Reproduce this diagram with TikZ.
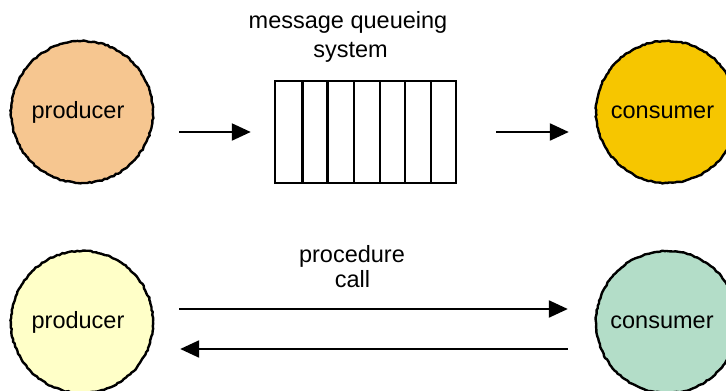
\documentclass[tikz,border=0pt]{standalone}
\usepackage{fontspec}
\setmainfont{Liberation Sans}
\usetikzlibrary{arrows.meta,decorations.pathmorphing}
\definecolor{prodA}{HTML}{F6C690}
\definecolor{consA}{HTML}{F6C600}
\definecolor{prodB}{HTML}{FFFFC8}
\definecolor{consB}{HTML}{B3DDC8}
\begin{document}
\pgfmathsetseed{7}
\begin{tikzpicture}[x=1pt,y=-1pt,
  blob/.style={circle, draw=black, line width=2.4pt, minimum size=142pt, inner sep=0pt,
    decorate, decoration={random steps, segment length=2.5pt, amplitude=0.6pt},
    font=\fontsize{23.5}{27}\selectfont},
  lbl/.style={font=\fontsize{23.5}{27}\selectfont, inner sep=0pt, anchor=base},
  arr/.style={line width=2.3pt, -{Triangle[length=19pt,width=17pt]}},
  cell/.style={line width=2.5pt}]
\useasboundingbox (0,0) rectangle (726,391);
\clip (0,0) rectangle (726,391);
% top row
\node[blob, fill=prodA] (prod1) at (82,112) {producer\kern8pt};
\node[blob, fill=consA] (cons1) at (667,112) {consumer\kern9pt};
\node[draw, cell, minimum width=181pt, minimum height=102pt, inner sep=0pt] (queue) at (365.5,132) {};
\foreach \xx in {302.7,327.5,354,380,405,431}{
  \draw[cell] (\xx,81) -- (\xx,183);
}
\node[lbl] (t1) at (348,28) {message queueing};
\node[lbl] (t2) at (350.5,57) {system};
\draw[arr, shorten <=25pt, shorten >=23pt] (queue.west -| prod1.east) -- (queue.west);
\draw[arr, shorten <=39pt, shorten >=26pt] (queue.east) -- (queue.east -| cons1.west);
% bottom row
\node[blob, fill=prodB] (prod2) at (82,322) {producer\kern8pt};
\node[blob, fill=consB] (cons2) at (667,322) {consumer\kern10pt};
\node[lbl] (p1) at (352,262) {procedure};
\node[lbl] (p2) at (352.5,287) {call};
\draw[arr, shorten <=25pt, shorten >=27pt] ([yshift=13pt]prod2.east) -- ([yshift=13pt]prod2.east -| cons2.west);
\draw[arr, shorten <=27pt, shorten >=26pt] ([yshift=-27pt]prod2.east -| cons2.west) -- ([yshift=-27pt]prod2.east);
\end{tikzpicture}
\end{document}
